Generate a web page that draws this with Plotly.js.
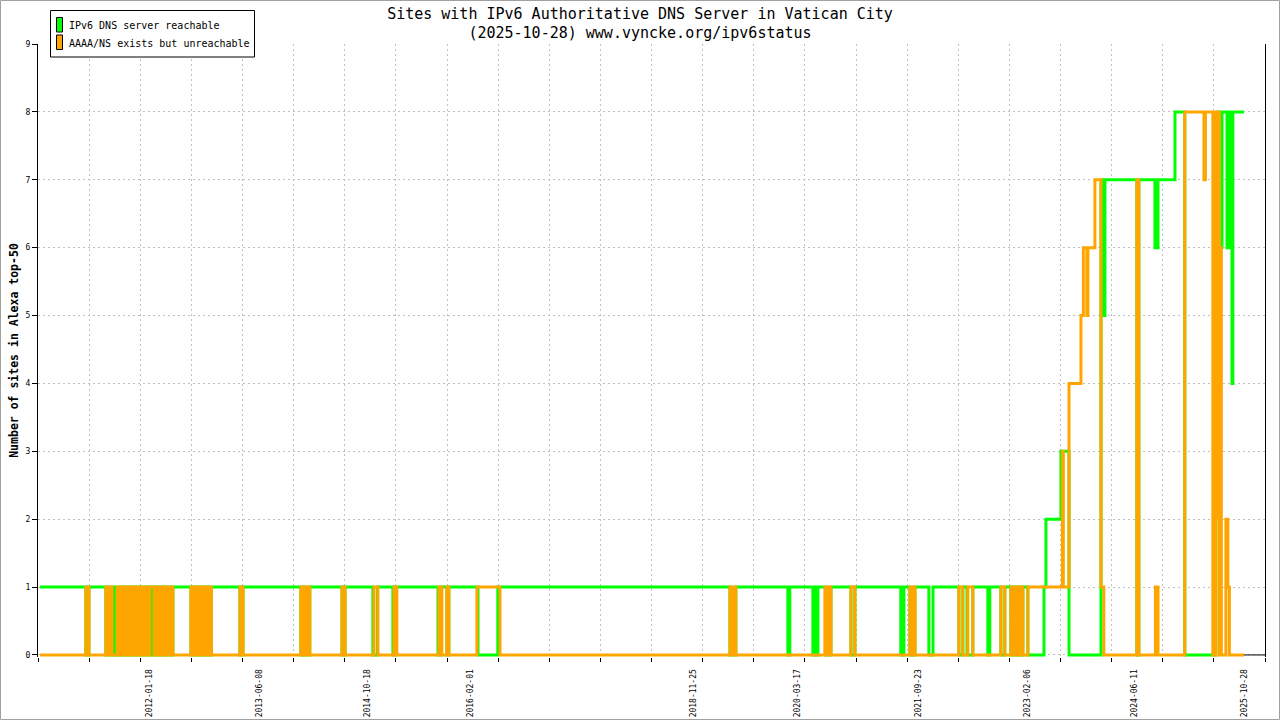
<!DOCTYPE html>
<html>
<head>
<meta charset="utf-8">
<script src="https://cdn.plot.ly/plotly-3.0.1.min.js"></script>
<style>
html,body{margin:0;padding:0;background:#fff;}
#chart{width:1280px;height:720px;}
</style>
</head>
<body>
<div id="chart"></div>
<script>
// ---- data ----
const seriesNames = ['IPv6 DNS server reachable', 'AAAA/NS exists but unreachable'];

const greenDates = [
 '2010-09-04','2011-04-03','2011-04-17',
 '2011-07-04','2011-07-13','2011-07-22','2011-08-01','2011-08-12','2011-08-14','2011-08-24','2011-09-02','2011-09-11','2011-09-20','2011-09-29','2011-10-08',
 '2011-10-22','2011-10-31','2011-11-10','2011-11-19','2011-11-28','2011-12-12','2011-12-21','2011-12-26','2012-01-04','2012-01-13','2012-01-22','2012-01-31','2012-02-03','2012-02-10','2012-02-19','2012-03-04','2012-03-13','2012-03-27','2012-04-05','2012-04-10','2012-04-19','2012-04-28','2012-05-03','2012-05-07',
 '2012-07-29','2012-08-09','2012-08-21','2012-09-01','2012-09-13','2012-09-24','2012-10-03','2012-10-15','2012-10-19','2012-10-31',
 '2013-03-11','2013-03-25',
 '2013-12-16','2013-12-25','2013-12-30','2014-01-10','2014-01-15','2014-01-26',
 '2014-06-23','2014-07-07','2014-11-12','2014-12-03','2015-02-12','2015-02-26','2015-09-07','2015-09-21','2015-10-18','2015-10-27',
 '2016-03-09','2016-06-08','2019-05-11','2019-06-07','2020-02-01','2020-02-10',
 '2020-05-26','2020-06-04','2020-06-09','2020-06-18','2020-07-25','2020-08-17','2020-11-17','2020-12-05',
 '2021-07-04','2021-07-18','2021-08-15','2021-09-07','2021-11-10','2021-11-29',
 '2022-03-28','2022-04-15','2022-05-04','2022-05-31','2022-08-08','2022-08-17','2022-10-07','2022-10-25',
 '2022-11-22','2022-12-01','2022-12-06','2022-12-15','2022-12-20','2022-12-29','2023-01-02','2023-01-16',
 '2023-02-08','2023-04-23','2023-05-02','2023-07-10','2023-08-16',
 '2024-01-10','2024-01-14','2024-01-19','2024-01-23','2024-01-28',
 '2024-06-23','2024-07-02','2024-09-14','2024-09-28','2024-12-15','2025-01-29',
 '2025-06-12','2025-06-16','2025-06-21','2025-06-26','2025-06-30','2025-07-05','2025-07-09','2025-07-14','2025-07-19',
 '2025-08-11','2025-08-15','2025-08-20','2025-08-24','2025-08-29','2025-09-03','2025-09-07','2025-10-28'
];
const greenValues = [
 1,0,1,
 0,1,0,1,0,1,0,1,0,1,0,1,
 0,1,0,1,0,1,0,1,0,1,0,1,0,1,0,1,0,1,0,1,0,1,0,1,
 0,1,0,1,0,1,0,1,0,1,
 0,1,
 0,1,0,1,0,1,
 0,1,0,1,0,1,0,1,0,1,
 0,1,0,1,0,1,
 0,1,0,1,0,1,0,1,
 0,1,0,1,0,1,
 0,1,0,1,0,1,0,1,
 0,1,0,1,0,1,0,1,
 0,1,2,3,0,
 7,5,7,5,7,
 0,7,6,7,8,0,
 2,0,6,4,8,6,8,6,8,
 6,8,6,8,6,4,8,8
];

const orangeDates = [
 '2010-09-04','2011-04-03','2011-04-17',
 '2011-07-04','2011-07-13','2011-07-22','2011-08-01','2011-08-24','2011-09-02','2011-09-11','2011-09-20','2011-09-29','2011-10-08',
 '2011-10-22','2011-10-31','2011-11-10','2011-11-19','2011-11-28','2011-12-12','2011-12-21','2011-12-26','2012-01-04','2012-01-13','2012-01-22','2012-02-10','2012-02-19','2012-03-04','2012-03-13','2012-03-27','2012-04-05','2012-04-10','2012-04-19','2012-04-28','2012-05-03','2012-05-07',
 '2012-07-29','2012-08-09','2012-08-21','2012-09-01','2012-09-13','2012-09-24','2012-10-03','2012-10-15','2012-10-19','2012-10-31',
 '2013-03-11','2013-03-25',
 '2013-12-16','2013-12-25','2013-12-30','2014-01-10','2014-01-15','2014-01-26',
 '2014-06-23','2014-07-07','2014-11-17','2014-12-05','2015-02-17','2015-03-02','2015-09-11','2015-09-25','2015-10-18','2015-10-27',
 '2016-03-04','2016-06-18','2019-05-11','2019-05-20','2019-05-25','2019-06-07',
 '2020-07-20','2020-08-03','2020-08-08','2020-08-17','2020-11-17','2020-12-05',
 '2021-08-15','2021-08-24','2021-08-29','2021-09-07',
 '2022-03-28','2022-04-15','2022-05-08','2022-05-31','2022-10-07','2022-10-25',
 '2022-11-22','2022-12-01','2022-12-06','2022-12-15','2022-12-20','2022-12-29','2023-01-02','2023-01-16',
 '2023-02-08','2023-07-17','2023-07-21','2023-08-16','2023-10-10','2023-10-21','2023-11-06','2023-11-11','2023-12-13','2024-01-10','2024-01-23',
 '2024-06-23','2024-07-02','2024-09-16','2024-09-28','2025-01-29','2025-04-27','2025-05-04',
 '2025-06-07','2025-06-12','2025-06-16','2025-06-21','2025-06-26','2025-06-30','2025-07-07','2025-07-12','2025-07-16',
 '2025-08-06','2025-08-15','2025-08-22','2025-10-28'
];
const orangeValues = [
 0,1,0,
 1,0,1,0,1,0,1,0,1,0,
 1,0,1,0,1,0,1,0,1,0,1,0,1,0,1,0,1,0,1,0,1,0,
 1,0,1,0,1,0,1,0,1,0,
 1,0,
 1,0,1,0,1,0,
 1,0,1,0,1,0,1,0,1,0,
 1,0,1,0,1,0,
 1,0,1,0,1,0,
 1,0,1,0,
 1,0,1,0,1,0,
 1,0,1,0,1,0,1,0,
 1,3,1,4,5,6,5,6,7,1,0,
 7,0,1,0,8,7,8,
 0,8,0,8,2,8,0,6,0,
 2,1,0,0
];

const xLabelDates = ['2012-01-18','2013-06-08','2014-10-18','2016-02-01','2018-11-25','2020-03-17','2021-09-23','2023-02-06','2024-06-11','2025-10-28'];
const yLabels = [0,1,2,3,4,5,6,7,8,9];
const xRange = ['2010-08-26','2026-02-01 16:00'];
const titleText = 'Sites with IPv6 Authoritative DNS Server in Vatican City<br>(2025-10-28) www.vyncke.org/ipv6status';
const yTitle = 'Number of sites in Alexa top-50';

// ---- layout helpers ----
const MONO = 'DejaVu Sans Mono, Liberation Mono, monospace';
const GREEN = '#00ff00', ORANGE = '#ffa500';
// y range extends a hair below 0 so the thick zero line is not clipped
const yRange = [-0.03, 9];
const M = {l:38, r:15, t:44, b:63};
const PW = 1280 - M.l - M.r, PH = 720 - M.t - M.b;
const px = x => (x - M.l) / PW;
const py = y => (720 - M.b - y) / PH;

// 24 equal grid intervals over the x range
function toMs(s){ const p = s.split(/[- :]/).map(Number); return Date.UTC(p[0], p[1]-1, p[2], p[3]||0, p[4]||0); }
function fromMs(ms){ return new Date(ms).toISOString().replace('T',' ').slice(0,19); }
const r0 = toMs(xRange[0]), r1 = toMs(xRange[1]);
const gridVals = [];
for (let k = 0; k <= 24; k++) gridVals.push(fromMs(r0 + (r1 - r0) * k / 24));
const lastDate = greenDates[greenDates.length - 1];

const traces = [
  {type:'scatter', mode:'lines', x:greenDates, y:greenValues, name:seriesNames[0],
   line:{color:GREEN, width:3, shape:'hv'}, showlegend:false, hoverinfo:'x+y'},
  {type:'scatter', mode:'lines', x:orangeDates, y:orangeValues, name:seriesNames[1],
   line:{color:ORANGE, width:3, shape:'hv'}, showlegend:false, hoverinfo:'x+y'},
  {type:'scatter', mode:'markers', x:[xLabelDates[0]], y:[0], xaxis:'x2', marker:{opacity:0},
   showlegend:false, hoverinfo:'skip'}
];

const gridStyle = {showgrid:true, gridcolor:'#c0c0c0', gridwidth:1, griddash:'2px,3px'};

const layout = {
  width:1280, height:720, margin:M,
  paper_bgcolor:'#fff', plot_bgcolor:'#fff',
  showlegend:false,
  title:{text:titleText, font:{family:MONO, size:15, color:'#000'}, x:0.5, xref:'container', xanchor:'center', y:0.974, yref:'container', yanchor:'top'},
  xaxis:Object.assign({type:'date', range:xRange, tickmode:'array', tickvals:gridVals, ticktext:gridVals.map(()=>''),
    ticks:'outside', ticklen:4, tickcolor:'#000', tickwidth:1, showline:false,
    zeroline:false, layer:'below traces', fixedrange:true}, gridStyle),
  xaxis2:{type:'date', overlaying:'x', anchor:'y', side:'bottom', range:xRange, tickmode:'array',
    tickvals:xLabelDates, ticktext:xLabelDates, tickangle:-90, ticks:'outside', ticklen:8,
    tickcolor:'rgba(0,0,0,0)', showgrid:false, showline:false, zeroline:false,
    tickfont:{family:MONO, size:8, color:'#000'}, fixedrange:true},
  yaxis:Object.assign({range:yRange, tickmode:'array', tickvals:yLabels, ticks:'outside', ticklen:5, tickcolor:'#000',
    showline:true, mirror:true, linecolor:'#000', linewidth:1, zeroline:false, layer:'below traces',
    tickfont:{family:MONO, size:8, color:'#000'}, fixedrange:true,
    title:{text:yTitle, font:{family:MONO, size:11.5, color:'#000', weight:'bold'}, standoff:4}}, gridStyle),
  shapes:[
    // x axis baseline at y = 0: visible only past the end of the data (elsewhere the lines cover it)
    {type:'line', xref:'x', yref:'y', x0:lastDate, x1:xRange[1], y0:0, y1:0, line:{color:'#000', width:1}, layer:'above'},
    {type:'rect', xref:'paper', yref:'paper', x0:px(0.5), x1:px(1279.5), y0:py(719.5), y1:py(0.5),
     line:{color:'#a0a0a0', width:1}, fillcolor:'rgba(0,0,0,0)', layer:'above'},
    {type:'rect', xref:'paper', yref:'paper', x0:px(50.5), x1:px(254.5), y0:py(57), y1:py(10.5),
     line:{color:'#000', width:1}, fillcolor:'#fff', layer:'above'},
    {type:'rect', xref:'paper', yref:'paper', x0:px(56.5), x1:px(62.5), y0:py(32), y1:py(17.5),
     line:{color:'#000', width:1}, fillcolor:GREEN, layer:'above'},
    {type:'rect', xref:'paper', yref:'paper', x0:px(56.5), x1:px(62.5), y0:py(49.5), y1:py(35),
     line:{color:'#000', width:1}, fillcolor:ORANGE, layer:'above'}
  ],
  annotations:[
    {xref:'paper', yref:'paper', x:px(67), y:py(26), xanchor:'left', yanchor:'middle', showarrow:false,
     text:seriesNames[0], font:{family:MONO, size:10, color:'#000'}},
    {xref:'paper', yref:'paper', x:px(67), y:py(43), xanchor:'left', yanchor:'middle', showarrow:false,
     text:seriesNames[1], font:{family:MONO, size:10, color:'#000'}}
  ]
};

Plotly.newPlot('chart', traces, layout, {displayModeBar:false, staticPlot:true});
</script>
</body>
</html>
